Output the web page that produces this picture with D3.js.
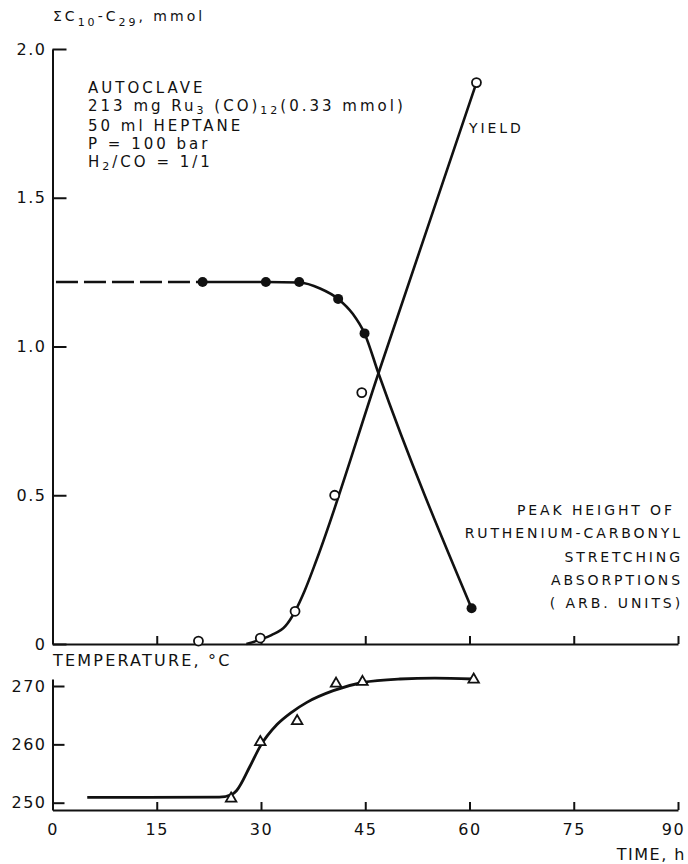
<!DOCTYPE html>
<html>
<head>
<meta charset="utf-8">
<script src="https://cdn.jsdelivr.net/npm/d3@7"></script>
<style>
  body { margin: 0; background: #fff; }
  text { font-family: "DejaVu Sans", sans-serif; fill: #111; }
  .axis path, .axis line { stroke: #111; stroke-width: 2; }
  .axis text { font-size: 16px; letter-spacing: 1.5px; font-family: "DejaVu Sans", sans-serif; fill: #111; }
</style>
</head>
<body>
<svg id="chart" width="688" height="864"></svg>
<script>
// ---------- data ----------
const timeTicks = [0, 15, 30, 45, 60, 75, 90];
const timeTickLabels = ["0", "15", "30", "45", "60", "75", "90"];
const amountTicks = [0, 0.5, 1.0, 1.5, 2.0];
const amountTickLabels = ["0", "0.5", "1.0", "1.5", "2.0"];
const tempTicks = [250, 260, 270];
const tempTickLabels = ["250", "260", "270"];

// open circles: yield of C10-C29 (mmol)
const yieldTime  = [21.0, 29.9, 34.9, 40.6, 44.5, 61.0];
const yieldValue = [0.01, 0.02, 0.11, 0.50, 0.845, 1.887];

// filled dots: peak height of Ru-carbonyl absorptions (arb. units)
const peakTime  = [21.6, 30.7, 35.5, 41.1, 44.9, 60.3];
const peakValue = [1.217, 1.217, 1.217, 1.16, 1.044, 0.12];

// triangles: temperature (°C)
const tempTime  = [25.7, 29.9, 35.2, 40.8, 44.6, 60.6];
const tempValue = [250.7, 260.4, 264.0, 270.4, 270.7, 271.1];

// hand-drawn curves
const yieldCurveTime  = [27.9, 29.9, 31.5, 33.5, 34.9, 36.3, 38.0, 46.9, 61.0];
const yieldCurveValue = [0.0, 0.015, 0.03, 0.06, 0.11, 0.18, 0.283, 0.91, 1.887];

const peakDashTime  = [0.5, 21.6];
const peakDashValue = [1.217, 1.217];
const peakCurveTime  = [21.6, 30.7, 35.5, 38.5, 41.1, 43.2, 44.9, 46.9, 60.3];
const peakCurveValue = [1.217, 1.217, 1.215, 1.195, 1.16, 1.11, 1.044, 0.91, 0.12];

const tempCurveTime  = [5, 24, 25.8, 26.5, 28.4, 29.9, 32.3, 34.4, 36.6, 40.4, 44.6, 50, 55, 60.5];
const tempCurveValue = [250.9, 250.95, 251.4, 252.1, 256.2, 259.7, 263.4, 265.5, 267.2, 269.2, 270.6, 271.2, 271.35, 271.2];

// ---------- scales ----------
const svg = d3.select("#chart");
const x = d3.scaleLinear().domain([0, 90]).range([52.5, 678]);
const yTop = d3.scaleLinear().domain([0, 2]).range([644, 49]);
const yBot = d3.scaleLinear().domain([248.75, 271.2]).range([810, 679]);

const zip = (a, b) => a.map((d, i) => [d, b[i]]);

// ---------- axes ----------
svg.append("g").attr("class", "axis")
  .attr("transform", `translate(0,${yTop(0)})`)
  .call(d3.axisTop(x).tickValues(timeTicks.slice(1)).tickSizeInner(8).tickSizeOuter(0).tickFormat(""));

svg.append("g").attr("class", "axis")
  .attr("transform", `translate(${x(0)},0)`)
  .call(d3.axisLeft(yTop).tickValues(amountTicks)
    .tickFormat((d, i) => amountTickLabels[i])
    .tickSizeInner(-14).tickSizeOuter(0).tickPadding(6));

const xb = svg.append("g").attr("class", "axis")
  .attr("transform", `translate(0,${yBot.range()[0]})`)
  .call(d3.axisBottom(x).tickValues(timeTicks)
    .tickFormat((d, i) => timeTickLabels[i])
    .tickSizeInner(-8).tickSizeOuter(0).tickPadding(14));
xb.selectAll(".tick text").filter(d => d === 90).attr("dx", -5);

svg.append("g").attr("class", "axis")
  .attr("transform", `translate(${x(0)},0)`)
  .call(d3.axisLeft(yBot).tickValues(tempTicks)
    .tickFormat((d, i) => tempTickLabels[i])
    .tickSizeInner(-12).tickSizeOuter(0).tickPadding(6));

svg.selectAll(".axis .domain").attr("stroke-width", 2.2);

// ---------- lines ----------
const lineTop = d3.line().x(d => x(d[0])).y(d => yTop(d[1])).curve(d3.curveMonotoneX);
const lineBot = d3.line().x(d => x(d[0])).y(d => yBot(d[1])).curve(d3.curveMonotoneX);

svg.append("path").datum(zip(peakDashTime, peakDashValue))
  .attr("d", d3.line().x(d => x(d[0])).y(d => yTop(d[1])))
  .attr("fill", "none").attr("stroke", "#111").attr("stroke-width", 2.4)
  .attr("stroke-dasharray", "22,6");

svg.append("path").datum(zip(peakCurveTime, peakCurveValue))
  .attr("d", lineTop).attr("fill", "none").attr("stroke", "#111").attr("stroke-width", 2.6);

svg.append("path").datum(zip(yieldCurveTime, yieldCurveValue))
  .attr("d", lineTop).attr("fill", "none").attr("stroke", "#111").attr("stroke-width", 2.6);

svg.append("path").datum(zip(tempCurveTime, tempCurveValue))
  .attr("d", lineBot).attr("fill", "none").attr("stroke", "#111").attr("stroke-width", 2.8);

// ---------- markers ----------
svg.append("g").selectAll("circle").data(zip(peakTime, peakValue)).join("circle")
  .attr("cx", d => x(d[0])).attr("cy", d => yTop(d[1])).attr("r", 5)
  .attr("fill", "#111");

svg.append("g").selectAll("circle").data(zip(yieldTime, yieldValue)).join("circle")
  .attr("cx", d => x(d[0])).attr("cy", d => yTop(d[1])).attr("r", 4.5)
  .attr("fill", "#fff").attr("stroke", "#111").attr("stroke-width", 1.8);

svg.append("g").selectAll("path").data(zip(tempTime, tempValue)).join("path")
  .attr("d", d3.symbol(d3.symbolTriangle, 48))
  .attr("transform", d => `translate(${x(d[0])},${yBot(d[1])})`)
  .attr("fill", "#fff").attr("stroke", "#111").attr("stroke-width", 1.8);

// ---------- text ----------
const yt = svg.append("text").attr("x", 53).attr("y", 21)
  .style("font-size", "14px").style("letter-spacing", "3px");
yt.append("tspan").text("ΣC");
yt.append("tspan").attr("dy", 5).style("font-size", "11px").text("10");
yt.append("tspan").attr("dy", -5).text("-C");
yt.append("tspan").attr("dy", 5).style("font-size", "11px").text("29");
yt.append("tspan").attr("dy", -5).text(", mmol");

const cond = svg.append("g").style("font-size", "15px").style("letter-spacing", "3px");
cond.append("text").attr("x", 88).attr("y", 93).text("AUTOCLAVE");
const l2 = cond.append("text").attr("x", 88).attr("y", 111);
l2.append("tspan").text("213 mg Ru");
l2.append("tspan").attr("dy", 3).style("font-size", "11px").text("3");
l2.append("tspan").attr("dy", -3).text(" (CO)");
l2.append("tspan").attr("dy", 3).style("font-size", "11px").text("12");
l2.append("tspan").attr("dy", -3).text("(0.33 mmol)");
cond.append("text").attr("x", 88).attr("y", 131).text("50 ml  HEPTANE");
cond.append("text").attr("x", 88).attr("y", 149).text("P = 100 bar");
const l5 = cond.append("text").attr("x", 88).attr("y", 167);
l5.append("tspan").text("H");
l5.append("tspan").attr("dy", 3).style("font-size", "11px").text("2");
l5.append("tspan").attr("dy", -3).text("/CO = 1/1");

svg.append("text").attr("x", 469).attr("y", 133)
  .style("font-size", "14px").style("letter-spacing", "2.9px").text("YIELD");

const peakLabel = ["PEAK  HEIGHT OF", "RUTHENIUM-CARBONYL", "STRETCHING", "ABSORPTIONS", "( ARB. UNITS)"];
const peakLabelX = [675, 683, 683, 683, 683];
svg.append("g").selectAll("text").data(peakLabel).join("text")
  .attr("x", (d, i) => peakLabelX[i])
  .attr("y", (d, i) => 515 + i * 23.3)
  .attr("text-anchor", "end")
  .style("font-size", "14px").style("letter-spacing", "2.9px")
  .text(d => d);

svg.append("text").attr("x", 53).attr("y", 666)
  .style("font-size", "16px").style("letter-spacing", "2.2px").text("TEMPERATURE, °C");
svg.append("text").attr("x", 686).attr("y", 860).attr("text-anchor", "end")
  .style("font-size", "16px").style("letter-spacing", "1.5px").text("TIME, h");
</script>
</body>
</html>
